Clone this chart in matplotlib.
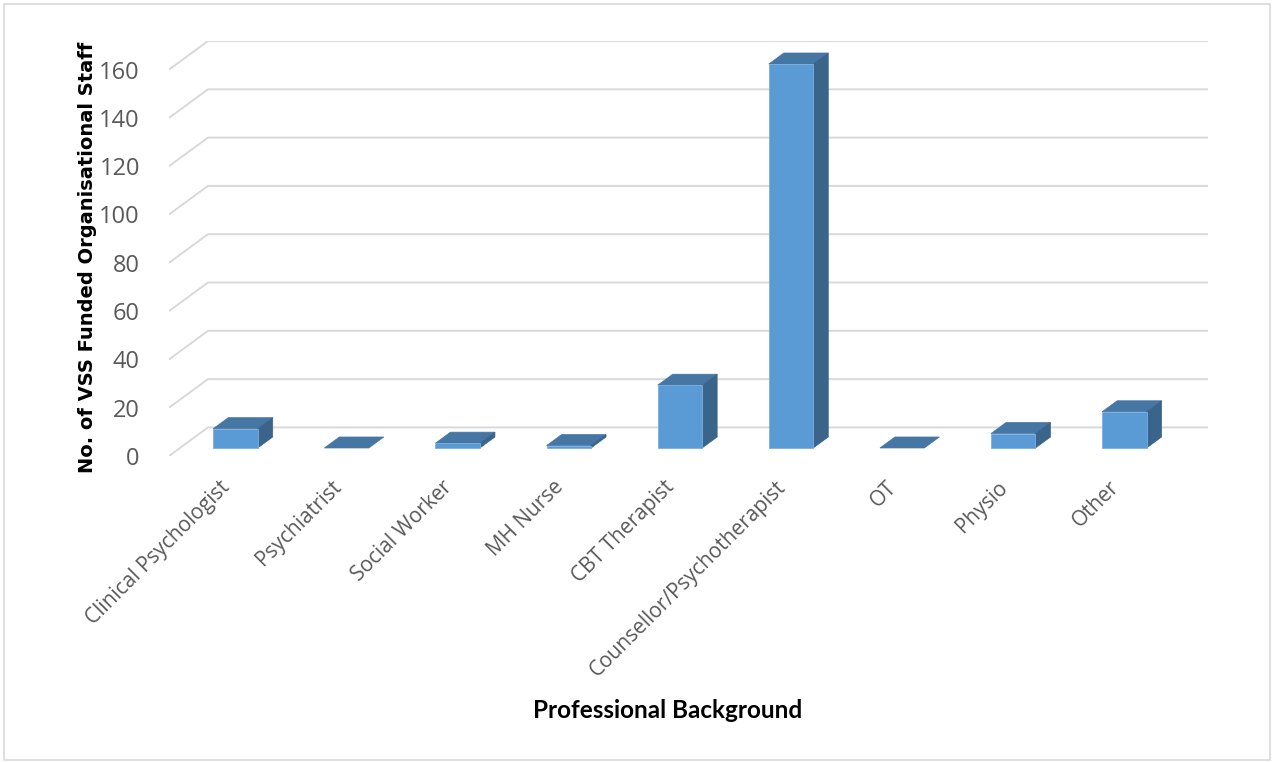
import matplotlib
matplotlib.use("Agg")
from matplotlib import pyplot as plt
from matplotlib.patches import Polygon, Rectangle
from matplotlib.transforms import ScaledTranslation

# Staff counts per professional background
categories = ["Clinical Psychologist", "Psychiatrist", "Social Worker", "MH Nurse",
              "CBT Therapist", "Counsellor/Psychotherapist", "OT", "Physio", "Other"]
staff = [8, 0, 2, 1, 26, 159, 0, 6, 15]
yticks = [0, 20, 40, 60, 80, 100, 120, 140, 160]

# oblique "3D" projection: depth d in [0, 1] shifts points right and up
kx = 0.351      # category units per full depth
kv = 11.84      # value units per full depth
bar_w = 0.4
d_front, d_back = 0.28, 0.665

front_col = "#5b9bd5"
top_col = "#4676a4"
side_col = "#3a6489"
grid_col = "#d9d9d9"

W, H = 1274, 762
fig = plt.figure(figsize=(W / 100, H / 100), dpi=100)
fig.patch.set_facecolor("white")
ax = fig.add_axes([169 / W, 1 - 456 / H, (1208 - 169) / W, (456 - 41) / H])
ax.set_xlim(0, len(categories) + kx)
ax.set_ylim(0, yticks[-1] + kv)
for s in ax.spines.values():
    s.set_visible(False)


def proj(x, v, d):
    return (x + d * kx, v + d * kv)


# floor diagonal + back wall gridlines
n = len(categories)
for v in yticks:
    xs, ys = zip(proj(0, v, 0), proj(0, v, 1), proj(n, v, 1))
    ax.plot(xs, ys, color=grid_col, lw=1.4, zorder=1, solid_capstyle="butt")

for i, val in enumerate(staff):
    x0 = i + 0.5 - bar_w / 2
    x1 = i + 0.5 + bar_w / 2
    top = [proj(x0, val, d_front), proj(x1, val, d_front),
           proj(x1, val, d_back), proj(x0, val, d_back)]
    ax.add_patch(Polygon(top, closed=True, fc=top_col, ec=top_col, lw=0.5, zorder=3))
    if val > 0:
        front = [proj(x0, 0, d_front), proj(x1, 0, d_front),
                 proj(x1, val, d_front), proj(x0, val, d_front)]
        side = [proj(x1, 0, d_front), proj(x1, 0, d_back),
                proj(x1, val, d_back), proj(x1, val, d_front)]
        ax.add_patch(Polygon(side, closed=True, fc=side_col, ec=side_col, lw=0.5, zorder=3))
        ax.add_patch(Polygon(front, closed=True, fc=front_col, ec="#79aee0", lw=0.6, zorder=4))

ax.set_yticks(yticks)
ax.set_yticklabels([str(t) for t in yticks], fontsize=17, color="#595959",
                   family=["Open Sans", "DejaVu Sans"])
ax.tick_params(axis="y", length=0, pad=21)

ax.set_xticks([i + 0.5 for i in range(n)])
ax.set_xticklabels(categories, rotation=45, ha="right", rotation_mode="anchor",
                   fontsize=15, color="#595959", family=["Open Sans", "DejaVu Sans"])
ax.tick_params(axis="x", length=0, pad=15)
shift = ScaledTranslation(-5 / 100, 0, fig.dpi_scale_trans)
for lbl in ax.get_xticklabels():
    lbl.set_transform(lbl.get_transform() + shift)

fig.text(88 / W, 1 - 257 / H, "No. of VSS Funded Organisational Staff", rotation=90,
         ha="center", va="center", fontsize=14, fontweight="bold",
         family=["DejaVu Sans"], color="black")
fig.text(668 / W, 1 - 711 / H, "Professional Background", ha="center", va="center",
         fontsize=17.5, fontweight="bold", family=["Lato", "DejaVu Sans"], color="black")

# outer chart border
fig.patches.append(Rectangle((4 / W, 2 / H), 1266 / W, 756 / H, transform=fig.transFigure,
                             fill=False, ec=grid_col, lw=1.2))

fig.savefig("out.png", dpi=100)
